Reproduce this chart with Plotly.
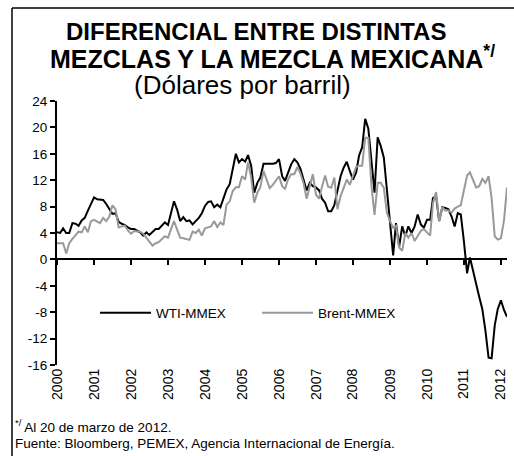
import plotly.graph_objects as go
import pandas as pd

# ---- data (monthly, Jan 2000 - Mar 2012), USD per barrel ----
start_month = "2000-01-01"
wti_mmex = [
    4.1, 4.0, 4.7, 4.0, 4.0, 5.5, 5.4, 5.1, 5.9, 6.3, 7.4, 8.3,
    9.4, 9.1, 9.0, 9.0, 8.4, 7.6, 6.9, 7.0, 5.7, 5.4, 5.2, 4.85,
    4.6, 4.6, 4.3, 4.1, 3.6, 4.1, 3.7, 4.1, 4.6, 4.6, 5.2, 5.6,
    5.2, 7.0, 8.8, 7.55, 5.8, 6.4, 5.8, 5.9, 5.3, 5.8, 6.3, 7.0,
    8.1, 8.7, 8.8, 7.9, 8.3, 7.9, 9.1, 10.6, 11.4, 13.7, 16.0, 14.7,
    15.2, 14.8, 15.8, 14.2, 10.1, 11.6, 12.4, 14.5, 14.5, 14.4, 14.5, 14.6,
    15.2, 12.6, 11.9, 13.15, 14.4, 15.2, 14.7, 13.7, 12.1, 10.45, 11.6, 11.1,
    10.9, 10.45, 9.2, 8.6, 7.3, 7.3, 8.2, 10.35, 12.6, 13.9, 14.8, 13.4,
    12.1, 13.15, 15.7, 17.0, 21.3, 19.8, 15.5, 10.1, 18.5, 17.2, 15.4, 10.5,
    6.0, 0.6, 5.5, 1.9, 5.0, 3.5, 5.0, 4.0, 5.0, 6.8, 5.3, 4.8,
    6.0, 6.0, 9.3, 9.6, 5.8, 7.9, 7.8, 7.6, 6.5, 5.0, 7.0, 6.8,
    2.7, -2.1, 0.3, -1.9, -3.7, -5.7, -7.5, -10.8, -14.9, -15.0, -10.0, -7.5,
    -6.2, -7.7, -8.7,
]
brent_mmex = [
    2.45, 2.45, 2.45, 0.9, 2.45, 3.1, 3.7, 4.2, 4.1, 5.0, 4.1, 5.8,
    6.0, 5.8, 5.5, 6.3, 5.8, 6.5, 8.2, 7.6, 4.85, 5.0, 5.1, 4.4,
    3.9, 4.3, 4.2, 4.2, 3.9, 3.2, 2.7, 2.1, 2.45, 2.6, 3.1, 3.5,
    3.3, 4.5, 5.8, 4.5, 3.3, 3.2, 3.1, 2.96, 4.2, 4.0, 4.5, 3.6,
    4.7, 4.9, 5.0, 5.8, 4.9, 5.6, 5.2, 8.3, 8.8, 10.35, 10.95, 10.95,
    12.6, 12.1, 14.7, 12.4, 8.6, 10.1, 10.95, 13.4, 12.1, 10.8, 11.3, 11.9,
    12.6, 11.1, 10.7, 12.15, 12.9, 12.9, 14.0, 13.0, 11.5, 9.2, 11.3, 12.9,
    9.8, 9.2, 11.0, 12.7, 11.0, 10.85, 12.4, 7.6, 9.6, 10.85, 12.1, 11.3,
    12.7, 14.0, 14.2, 14.2, 18.45, 18.45, 11.3, 6.75, 11.6, 11.6, 10.85, 7.1,
    5.8, 4.8, 5.1, 1.8, 1.3, 4.0, 3.3, 4.0, 2.8, 3.6, 4.3, 4.6,
    4.1, 3.6, 8.5, 10.2, 5.8, 7.9, 7.4, 7.4, 7.1, 7.7, 8.0, 8.2,
    10.5, 12.7, 13.2, 12.0, 10.9, 11.1, 12.2, 11.6, 12.6, 9.3, 3.5, 3.0,
    3.2, 6.0, 10.9,
]
series_names = ["WTI-MMEX", "Brent-MMEX"]
year_ticks = [str(y) for y in range(2000, 2013)]
y_ticks = list(range(-16, 25, 4))
y_ticktext = [str(v) for v in y_ticks]

dates = pd.date_range(start_month, periods=len(wti_mmex), freq="MS")
tick_dates = [f"{y}-01-01" for y in year_ticks]

W, H = 514, 456
L, R, T, B = 57, 7, 101, 91
PW, PH = W - L - R, H - T - B


def px_x(px):
    return (px - L) / PW


def px_y(py):
    return (H - B - py) / PH


FONT = "Liberation Sans, Arial, sans-serif"

fig = go.Figure()
fig.add_trace(go.Scatter(x=dates, y=wti_mmex, name=series_names[0], mode="lines",
                         line=dict(color="#000000", width=2), legend="legend"))
fig.add_trace(go.Scatter(x=dates, y=brent_mmex, name=series_names[1], mode="lines",
                         line=dict(color="#999999", width=2), legend="legend2"))
# helper trace so the zero-line axis (ticks at y=0) is drawn
fig.add_trace(go.Scatter(x=[dates[0], dates[-1]], y=[None, None], xaxis="x2",
                         mode="lines", showlegend=False, hoverinfo="skip"))

xr = [start_month, str(dates[-1].date())]
leg_common = dict(orientation="h", xanchor="left", yanchor="middle",
                  bgcolor="rgba(0,0,0,0)", borderwidth=0,
                  font=dict(size=13.5), itemwidth=51)
fig.update_layout(
    width=W, height=H,
    margin=dict(l=L, r=R, t=T, b=B),
    paper_bgcolor="white", plot_bgcolor="white",
    font=dict(family=FONT, color="black", size=13),
    showlegend=True,
    legend=dict(x=px_x(95), y=px_y(313), **leg_common),
    legend2=dict(x=px_x(257), y=px_y(313), **leg_common),
    xaxis=dict(range=xr, type="date", tickvals=tick_dates, ticktext=year_ticks,
               tickangle=-90, showgrid=False, zeroline=False, showline=False,
               ticks="", tickfont=dict(size=14)),
    xaxis2=dict(range=xr, type="date", overlaying="x", anchor="free",
                position=16 / 40, side="bottom", tickvals=tick_dates,
                showticklabels=False, showgrid=False, zeroline=False,
                showline=True, linecolor="black", linewidth=2,
                ticks="outside", ticklen=5, tickwidth=2, tickcolor="black"),
    yaxis=dict(range=[-16, 24], tickvals=y_ticks, ticktext=y_ticktext,
               showgrid=False, zeroline=False,
               showline=True, linecolor="black", linewidth=2, ticks="outside",
               ticklen=5, tickwidth=1.5, tickcolor="black",
               tickfont=dict(size=13.5)),
)

# outer frame (top and left edges visible)
fig.add_shape(type="line", xref="paper", yref="paper", layer="below",
              x0=px_x(12), x1=px_x(514), y0=px_y(8), y1=px_y(8),
              line=dict(color="black", width=1.5))
fig.add_shape(type="line", xref="paper", yref="paper", layer="below",
              x0=px_x(12), x1=px_x(12), y0=px_y(8), y1=px_y(456),
              line=dict(color="black", width=1.5))

anns = [
    dict(text="<b>DIFERENCIAL ENTRE DISTINTAS</b>", x=px_x(256), y=px_y(31),
         font=dict(size=24)),
    dict(text="<b>MEZCLAS Y LA MEZCLA MEXICANA<sup>*/</sup></b>", x=px_x(272), y=px_y(57),
         font=dict(size=25)),
    dict(text="(Dólares por barril)", x=px_x(242), y=px_y(85), font=dict(size=26)),
]
for a in anns:
    fig.add_annotation(xref="paper", yref="paper", showarrow=False,
                       xanchor="center", yanchor="middle", **a)

foot = [
    ("<sup>*/</sup> Al 20 de marzo de 2012.", 426),
    ("Fuente: Bloomberg, PEMEX, Agencia Internacional de Energía.", 443),
]
for txt, yy in foot:
    fig.add_annotation(xref="paper", yref="paper", showarrow=False, x=px_x(13),
                       y=px_y(yy), xanchor="left", yanchor="middle", text=txt,
                       font=dict(size=13.5))

fig.write_html("out.html", config={"displayModeBar": False},
               post_script="document.body.style.margin='0';"
                           "document.body.style.overflow='hidden';")
